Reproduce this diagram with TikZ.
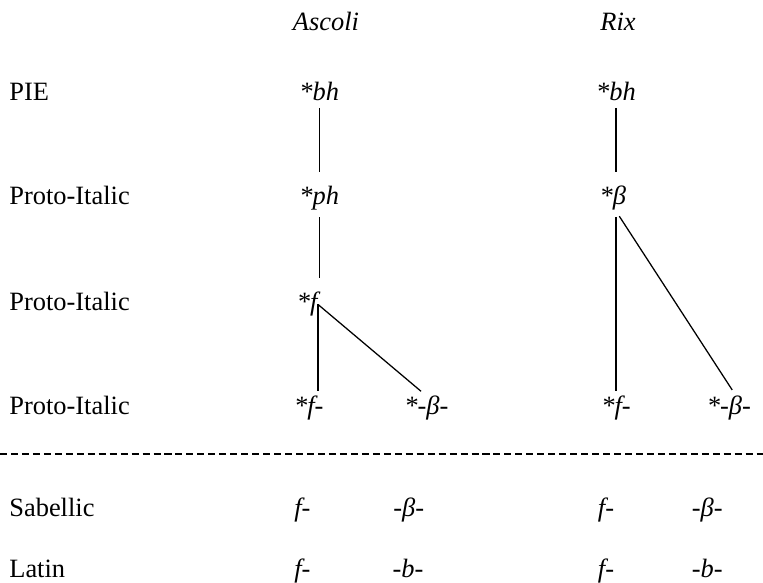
\documentclass[tikz,border=0pt]{standalone}
\usepackage{fontspec}
\setmainfont{Liberation Serif}

\begin{document}
\fontsize{9.4}{11}\selectfont
\begin{tikzpicture}[
        stage/.style={anchor=base west, inner sep=0pt},
        form/.style={anchor=base, inner sep=0pt, font=\itshape},
        branch/.style={line width=0.45pt, shorten <=0.075cm}
    ]
    \useasboundingbox (0,0) rectangle (9.5375,7.2875);

    % Column heads
    \node[form] (ascoli) at (4.075, 6.90) {Ascoli};
    \node[form] (rix) at (7.725, 6.90) {Rix};

    % Stage labels
    \node[stage] (pie) at (0.11, 6.025) {PIE};
    \node[stage] (pita) at (0.11, 4.725) {Proto-Italic};
    \node[stage] (pitb) at (0.11, 3.40) {Proto-Italic};
    \node[stage] (pitc) at (0.11, 2.10) {Proto-Italic};
    \node[stage] (sab) at (0.11, 0.825) {Sabellic};
    \node[stage] (lat) at (0.11, 0.0625) {Latin};

    % Ascoli tree
    \node[form] (bhA) at (3.99, 6.025) {*bh};
    \node[form] (phA) at (3.99, 4.725) {*ph};
    \node[form] (fA) at (3.84, 3.40) {*f};
    \node[form] (fdA) at (3.86, 2.10) {*f-};
    \node[form] (bA) at (5.33, 2.10) {*-β-};

    \draw[branch, shorten >=0.175cm] (bhA.south) -- (bhA.south |- phA.north);
    \draw[branch, shorten >=0.175cm] (phA.south) -- (phA.south |- fA.north);
    \draw[branch, shorten <=0pt, shorten >=0.0625cm] (fA.east) -- (fA.east |- fdA.north);
    \draw[branch, shorten <=0pt, shorten >=0.0875cm] (fA.east) -- (bA.north);

    % Rix tree
    \node[form] (bhR) at (7.70, 6.025) {*bh};
    \node[form] (betaR) at (7.66, 4.725) {*β};
    \node[form] (fdR) at (7.70, 2.10) {*f-};
    \node[form] (bR) at (9.11, 2.10) {*-β-};

    \draw[branch, shorten >=0.175cm] (bhR.south) -- (bhR.south |- betaR.north);
    \draw[branch, shorten >=0.0625cm] (fdR.north |- betaR.south) -- (fdR.north);
    \draw[branch, shorten >=0.0875cm] (fdR.north |- betaR.south) -- ([xshift=0.09cm]bR.north);

    % Divider
    \draw[dash pattern=on 2.5pt off 1.4pt, line width=0.4pt] (0, 1.6125) -- (9.5375, 1.6125);

    % Sabellic and Latin reflexes
    \node[form] (sabfA) at (3.78, 0.825) {f-};
    \node[form] (sabbA) at (5.11, 0.825) {-β-};
    \node[form] (latfA) at (3.78, 0.0625) {f-};
    \node[form] (latbA) at (5.10, 0.0625) {-b-};
    \node[form] (sabfR) at (7.575, 0.825) {f-};
    \node[form] (sabbR) at (8.84, 0.825) {-β-};
    \node[form] (latfR) at (7.575, 0.0625) {f-};
    \node[form] (latbR) at (8.84, 0.0625) {-b-};

\end{tikzpicture}
\end{document}
